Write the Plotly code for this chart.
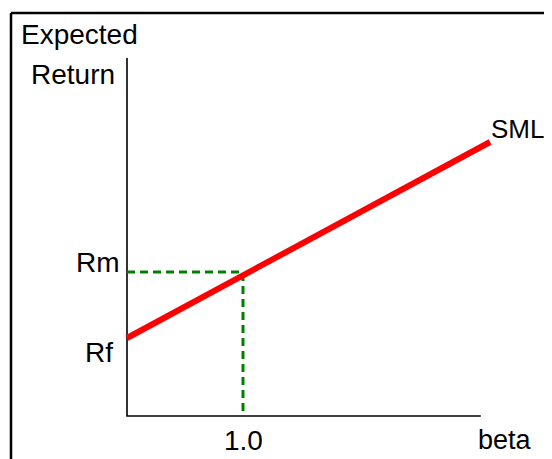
import plotly.graph_objects as go

# Data (units: beta on x, return on y)
rf = 0.78
rm = 1.44
beta_m = 1.0
sml_beta = [0.0, 3.13]
sml_ret = [0.78, 2.74]
x_axis_end = 3.05
y_axis_end = 3.58
tick_labels = {"rm": "Rm", "rf": "Rf", "beta_m": "1.0"}

# page body has an 8px margin; lay out in page pixels and compensate
OFF = 8
W, H = 552 - OFF, 459 - OFF
FONT = "Liberation Sans, Arial, sans-serif"
fs = 28

def px(p):
    return (p - OFF) / W

def py(p):
    return 1 - (p - OFF) / H

fig = go.Figure()

# axes
fig.add_trace(go.Scatter(x=[0, 0, x_axis_end], y=[y_axis_end, 0, 0], mode="lines",
                         line=dict(color="black", width=1.6), hoverinfo="skip"))
# dashed guides
fig.add_trace(go.Scatter(x=[0, beta_m, beta_m], y=[rm, rm, 0], mode="lines",
                         line=dict(color="#008000", width=3, dash="8px,5px"), hoverinfo="skip"))
# SML
fig.add_trace(go.Scatter(x=sml_beta, y=sml_ret, mode="lines",
                         line=dict(color="#ff0000", width=6), hoverinfo="skip"))

ann = []
def A(text, x, y, xanchor, xref="x", yref="y", xshift=0, yshift=0, size=fs):
    ann.append(dict(text=text, x=x, y=y, xref=xref, yref=yref, xanchor=xanchor, yanchor="middle",
                    showarrow=False, xshift=xshift, yshift=yshift,
                    font=dict(family=FONT, size=size, color="black")))

A("Expected", px(19), py(35), "left", "paper", "paper")
A("Return", px(29), py(74), "left", "paper", "paper")
A(tick_labels["rm"], 0, rm, "right", xshift=-5, yshift=10)
A(tick_labels["rf"], 0, rf, "right", xshift=-12, yshift=-14)
A(tick_labels["beta_m"], beta_m, 0, "center", yshift=-24)
A("beta", px(476), py(440), "left", "paper", "paper", size=27)
A("SML", sml_beta[-1], sml_ret[-1], "left", xshift=-1, yshift=13, size=26)

shapes = [
    dict(type="line", xref="paper", yref="paper", x0=px(11), x1=1.05, y0=py(13), y1=py(13),
         line=dict(color="black", width=2.5)),
    dict(type="line", xref="paper", yref="paper", x0=px(11), x1=px(11), y0=py(13), y1=-0.05,
         line=dict(color="black", width=2.5)),
]

px_per_beta = 116.0
px_per_ret = 100.0
x0px, y0px = 127 - OFF, 416 - OFF
fig.update_layout(
    width=W, height=H, margin=dict(l=0, r=0, t=0, b=0),
    paper_bgcolor="white", plot_bgcolor="white", showlegend=False,
    xaxis=dict(range=[-x0px / px_per_beta, (W - x0px) / px_per_beta], visible=False, fixedrange=True),
    yaxis=dict(range=[-(H - y0px) / px_per_ret, y0px / px_per_ret], visible=False, fixedrange=True),
    annotations=ann, shapes=shapes,
)
fig.write_html("out.html")
